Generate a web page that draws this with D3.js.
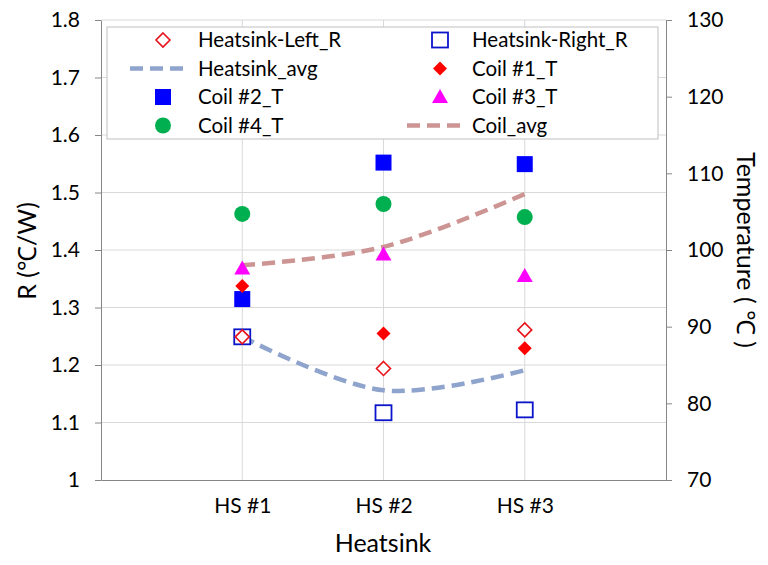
<!DOCTYPE html>
<html><head><meta charset="utf-8">
<script src="https://cdn.jsdelivr.net/npm/d3@7"></script>
<style>body{margin:0;background:#fff}svg{display:block}text{font-family:Lato,"Open Sans",sans-serif;fill:#000}</style>
</head><body><svg id="c" width="768" height="565"></svg>
<script>
const categories = ["HS #1","HS #2","HS #3"];
const heatsinkLeftR = [1.249, 1.194, 1.261];
const heatsinkRightR = [1.249, 1.117, 1.122];
const heatsinkAvg = [1.249, 1.156, 1.191];
const coil1T = [95.3, 89.1, 87.2];
const coil2T = [93.6, 111.4, 111.2];
const coil3T = [97.6, 99.4, 96.6];
const coil4T = [104.7, 106.0, 104.3];
const coilAvg = [98.0, 100.4, 107.3];
const rTicks = [1,1.1,1.2,1.3,1.4,1.5,1.6,1.7,1.8];
const tTicks = [70,80,90,100,110,120,130];

const svg = d3.select("#c");
const L=101,R=666,T=20,B=480;
const x = d3.scaleLinear().domain([0,4]).range([L,R]);
const yR = d3.scaleLinear().domain([1,1.8]).range([B,T]);
const yT = d3.scaleLinear().domain([70,130]).range([B,T]);

// grid
svg.append("g").selectAll("line").data(rTicks.slice(1)).join("line")
 .attr("x1",L).attr("x2",R).attr("y1",d=>yR(d)).attr("y2",d=>yR(d)).attr("stroke","#d9d9d9");
svg.append("g").selectAll("line").data(categories).join("line")
 .attr("x1",(d,i)=>x(i+1)).attr("x2",(d,i)=>x(i+1)).attr("y1",T).attr("y2",B).attr("stroke","#d9d9d9");

// axes
const ax = g=>{g.select(".domain").attr("stroke","#868686");g.selectAll(".tick line").attr("stroke","#868686");g.selectAll("text").style("font-size","21px").style("font-family","Lato,'Open Sans',sans-serif");};
svg.append("g").attr("transform",`translate(${L},0)`)
 .call(d3.axisLeft(yR).tickValues(rTicks).tickFormat(d3.format("~g")).tickSize(6).tickSizeOuter(0).tickPadding(15)).call(ax);
svg.append("g").attr("transform",`translate(${R},0)`)
 .call(d3.axisRight(yT).tickValues(tTicks).tickSize(6).tickSizeOuter(0).tickPadding(15)).call(ax);
svg.append("g").attr("transform",`translate(0,${B})`)
 .call(d3.axisBottom(x).tickValues([1,2,3]).tickFormat(d=>categories[d-1]).tickSize(0).tickSizeOuter(0).tickPadding(18)).call(ax);

// titles
svg.append("text").attr("x",383).attr("y",552).attr("text-anchor","middle").style("font-size","25px").text("Heatsink");
svg.append("text").attr("transform","translate(36,251) rotate(-90)").attr("text-anchor","middle").style("font-size","25px").text("R (℃/W)");
svg.append("text").attr("transform","translate(737,250) rotate(90)").attr("text-anchor","middle").style("font-size","25px").text("Temperature ( ℃ )");

// lines
const curve = d3.curveCatmullRom.alpha(0.5);
const lineR = d3.line().x((d,i)=>x(i+1)).y(d=>yR(d)).curve(curve);
const lineT = d3.line().x((d,i)=>x(i+1)).y(d=>yT(d)).curve(curve);
const hsColor="#8fa4cc", coilColor="#cc9594";
svg.append("path").attr("d",lineR(heatsinkAvg)).attr("fill","none").attr("stroke",hsColor).attr("stroke-width",4.5).attr("stroke-dasharray","13,7");
svg.append("path").attr("d",lineT(coilAvg)).attr("fill","none").attr("stroke",coilColor).attr("stroke-width",4.5).attr("stroke-dasharray","13,7");

// marker shapes
const sym = {
 diamondOpen: s=>s.append("path").attr("d","M0,-7L7,0L0,7L-7,0Z").attr("fill","#fff").attr("stroke","#e8131a").attr("stroke-width",1.6),
 squareOpen: s=>s.append("rect").attr("x",-8).attr("y",-7.5).attr("width",16).attr("height",15).attr("fill","#fff").attr("stroke","#0a14c8").attr("stroke-width",1.8),
 diamond: s=>s.append("path").attr("d","M0,-7L7,0L0,7L-7,0Z").attr("fill","#ff0000"),
 square: s=>s.append("rect").attr("x",-8).attr("y",-8).attr("width",16).attr("height",16).attr("fill","#0000ff"),
 tri: s=>s.append("path").attr("d","M0,-8L8,6L-8,6Z").attr("fill","#ff00ff"),
 circle: s=>s.append("circle").attr("r",8).attr("fill","#00b050")
};
function pts(data, yscale, kind){
 const g=svg.append("g");
 data.forEach((v,i)=>{const s=g.append("g").attr("transform",`translate(${x(i+1)},${yscale(v)})`);sym[kind](s);});
}
pts(heatsinkRightR,yR,"squareOpen");
pts(heatsinkLeftR,yR,"diamondOpen");
pts(coil4T,yT,"circle");
pts(coil3T,yT,"tri");
pts(coil2T,yT,"square");
pts(coil1T,yT,"diamond");

// legend
svg.append("rect").attr("x",107).attr("y",27).attr("width",551).attr("height",112).attr("fill","#fff").attr("stroke","#bfbfbf");
const legend = [
 {name:"Heatsink-Left_R",k:"diamondOpen",col:0,row:0},
 {name:"Heatsink-Right_R",k:"squareOpen",col:1,row:0},
 {name:"Heatsink_avg",line:hsColor,col:0,row:1},
 {name:"Coil #1_T",k:"diamond",col:1,row:1},
 {name:"Coil #2_T",k:"square",col:0,row:2},
 {name:"Coil #3_T",k:"tri",col:1,row:2},
 {name:"Coil #4_T",k:"circle",col:0,row:3},
 {name:"Coil_avg",line:coilColor,col:1,row:3}
];
legend.forEach(d=>{
 const cx = d.col? 440:163, ty = 40 + d.row*28.5, tx = d.col? 472:198;
 if(d.line){svg.append("line").attr("x1",cx-33).attr("x2",cx+22).attr("y1",ty).attr("y2",ty).attr("stroke",d.line).attr("stroke-width",4.5).attr("stroke-dasharray","13,7");}
 else{const s=svg.append("g").attr("transform",`translate(${cx},${ty})`);sym[d.k](s);}
 svg.append("text").attr("x",tx).attr("y",ty).attr("dy","0.35em").style("font-size","20.5px").text(d.name);
});
</script></body></html>
